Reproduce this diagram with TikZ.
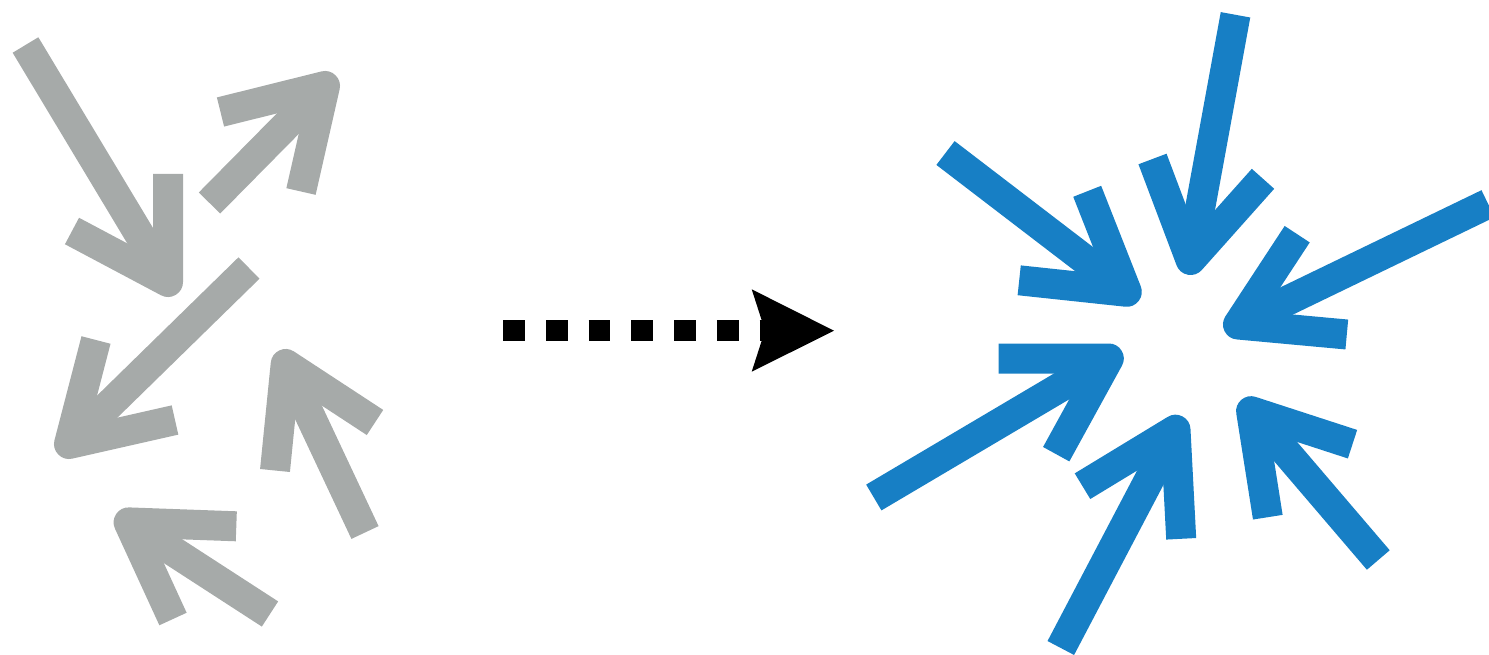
\documentclass[tikz,border=0pt]{standalone}
\begin{document}
\begin{tikzpicture}[x=1pt,y=-1pt,
  grayarrow/.style={color1,line width=30pt,line join=round},
  bluearrow/.style={color2,line width=30pt,line join=round}]
\definecolor{color1}{HTML}{A6AAA9}
\definecolor{color2}{HTML}{177FC5}
\useasboundingbox (0,0) rectangle (1489,655);
\clip (0,0) rectangle (1489,655);
% scattered arrows
\draw[grayarrow] (168,174) -- (168,282) -- (72,231);
\draw[grayarrow] (25.5,45) -- (168,282);
\draw[grayarrow] (220.5,112) -- (325,86) -- (301,191.5);
\draw[grayarrow] (209.5,203) -- (325,86);
\draw[grayarrow] (96,340) -- (69,444) -- (175,420);
\draw[grayarrow] (249,268) -- (69,444);
\draw[grayarrow] (275,470.5) -- (285.7,364) -- (375,422.5);
\draw[grayarrow] (365,532.5) -- (285.7,364);
\draw[grayarrow] (236.3,526.3) -- (128.6,522.4) -- (173,619);
\draw[grayarrow] (270,614) -- (128.6,522.4);
% dotted arrow
\draw[black,line width=21.5pt,dash pattern=on 21.7pt off 21pt] (503.3,330.5) -- (770,330.5);
\fill[black] (834,330.7) -- (751.7,289.3) -- (765,330.5) -- (751.7,371.7) -- cycle;
% converging arrows
\draw[bluearrow] (1152.5,159) -- (1190.6,260) -- (1263,178.8);
\draw[bluearrow] (1235.5,14.8) -- (1190.6,260);
\draw[bluearrow] (1087.2,191.3) -- (1126.8,291.8) -- (1019.2,280.3);
\draw[bluearrow] (945.5,153) -- (1126.8,291.8);
\draw[bluearrow] (1297.2,234.2) -- (1238,324.5) -- (1346.8,334.5);
\draw[bluearrow] (1488,203.7) -- (1238,324.5);
\draw[bluearrow] (998.7,358.5) -- (1108.8,358.5) -- (1056.2,454.2);
\draw[bluearrow] (873.8,497.5) -- (1108.8,358.5);
\draw[bluearrow] (1082.5,486.2) -- (1175.5,429.7) -- (1181.2,538.8);
\draw[bluearrow] (1060.8,648) -- (1175.5,429.7);
\draw[bluearrow] (1267.8,517.2) -- (1251.1,411.2) -- (1352.5,444.2);
\draw[bluearrow] (1378.3,560) -- (1251.1,411.2);
\end{tikzpicture}
\end{document}
